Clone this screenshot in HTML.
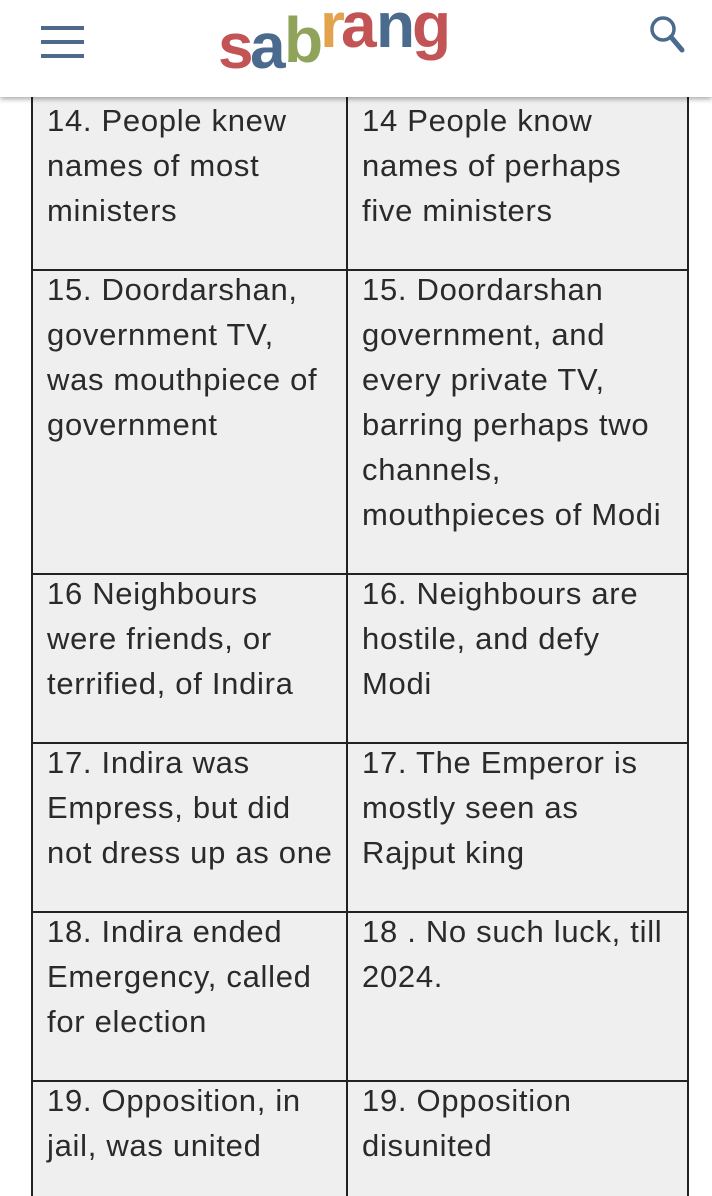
<!DOCTYPE html>
<html><head><meta charset="utf-8">
<style>
html,body{margin:0;padding:0;width:712px;height:1196px;overflow:hidden;background:#fff;font-family:"Liberation Sans",Arial,sans-serif;}
#table{position:absolute;left:0;top:0;width:712px;height:1196px;overflow:hidden;}
.cell{position:absolute;background:#efefef;border:2px solid #222;box-sizing:border-box;}
.txt{position:absolute;font-size:31px;letter-spacing:0.7px;line-height:45px;color:#2a2a2a;white-space:nowrap;}
#header{position:absolute;left:0;top:0;width:712px;height:97px;background:#fff;box-shadow:0 2px 5px rgba(0,0,0,0.35);z-index:5;}
.bar{position:absolute;left:41px;width:43px;height:4px;background:#4c6a8c;}
.logo{position:absolute;font-weight:bold;font-size:64px;font-family:"Liberation Sans",Arial,sans-serif;letter-spacing:-3px;}
</style></head><body>
<div id="header">
  <div style="position:absolute;left:35px;top:18px;width:56px;height:44px;">
    <div class="bar" style="left:6px;top:8px"></div><div class="bar" style="left:6px;top:22px"></div><div class="bar" style="left:6px;top:36px"></div>
  </div>
  <div style="position:absolute;left:218px;top:8px;width:250px;height:80px;">
    <span class="logo" style="left:0;top:1px;color:#c25456">s</span>
    <span class="logo" style="left:32px;top:1px;color:#4b6b8e">a</span>
    <span class="logo" style="left:66px;top:-5px;color:#8fa35a">b</span>
    <span class="logo" style="left:102px;top:-20px;color:#e3a24c">r</span>
    <span class="logo" style="left:123px;top:-20px;color:#c25456">a</span>
    <span class="logo" style="left:158px;top:-20px;color:#4b6b8e">n</span>
    <span class="logo" style="left:194px;top:-20px;color:#c25456">g</span>
  </div>
  <svg style="position:absolute;left:645px;top:12px" width="45" height="45" viewBox="0 0 45 45">
    <circle cx="18" cy="17" r="11" fill="none" stroke="#4b6b8e" stroke-width="3.5"/>
    <line x1="26" y1="25" x2="37" y2="38" stroke="#4b6b8e" stroke-width="5" stroke-linecap="round"/>
  </svg>
</div>
<div id="table"></div>
<script>
const rowTops=[80,269,573,742,911,1080];
const rowBottoms=[271,575,744,913,1082,1230];
const leftTexts=[
["14. People knew","names of most","ministers"],
["15. Doordarshan,","government TV,","was mouthpiece of","government"],
["16 Neighbours","were friends, or","terrified, of Indira"],
["17. Indira was","Empress, but did","not dress up as one"],
["18. Indira ended","Emergency, called","for election"],
["19. Opposition, in","jail, was united"]];
const rightTexts=[
["14 People know","names of perhaps","five ministers"],
["15. Doordarshan","government, and","every private TV,","barring perhaps two","channels,","mouthpieces of Modi"],
["16. Neighbours are","hostile, and defy","Modi"],
["17. The Emperor is","mostly seen as","Rajput king"],
["18 . No such luck, till","2024."],
["19. Opposition","disunited"]];
const firstTextTops=[98,267,571,740,909,1078];
const t=document.getElementById('table');
for(let i=0;i<rowTops.length;i++){
  [[31,348,leftTexts[i],47],[346,689,rightTexts[i],362]].forEach(([x0,x1,lines,tx],c)=>{
    const d=document.createElement('div');
    d.className='cell';
    
    
    d.style.left=x0+'px';d.style.width=(x1-x0)+'px';
    d.style.top=rowTops[i]+'px';d.style.height=(rowBottoms[i]-rowTops[i])+'px';
    t.appendChild(d);
    const tx_=document.createElement('div');
    tx_.className='txt';
    
    
    tx_.style.left=tx+'px';tx_.style.top=firstTextTops[i]+'px';
    tx_.innerHTML=lines.join('<br>');
    t.appendChild(tx_);
  });
}
</script>
</body></html>
